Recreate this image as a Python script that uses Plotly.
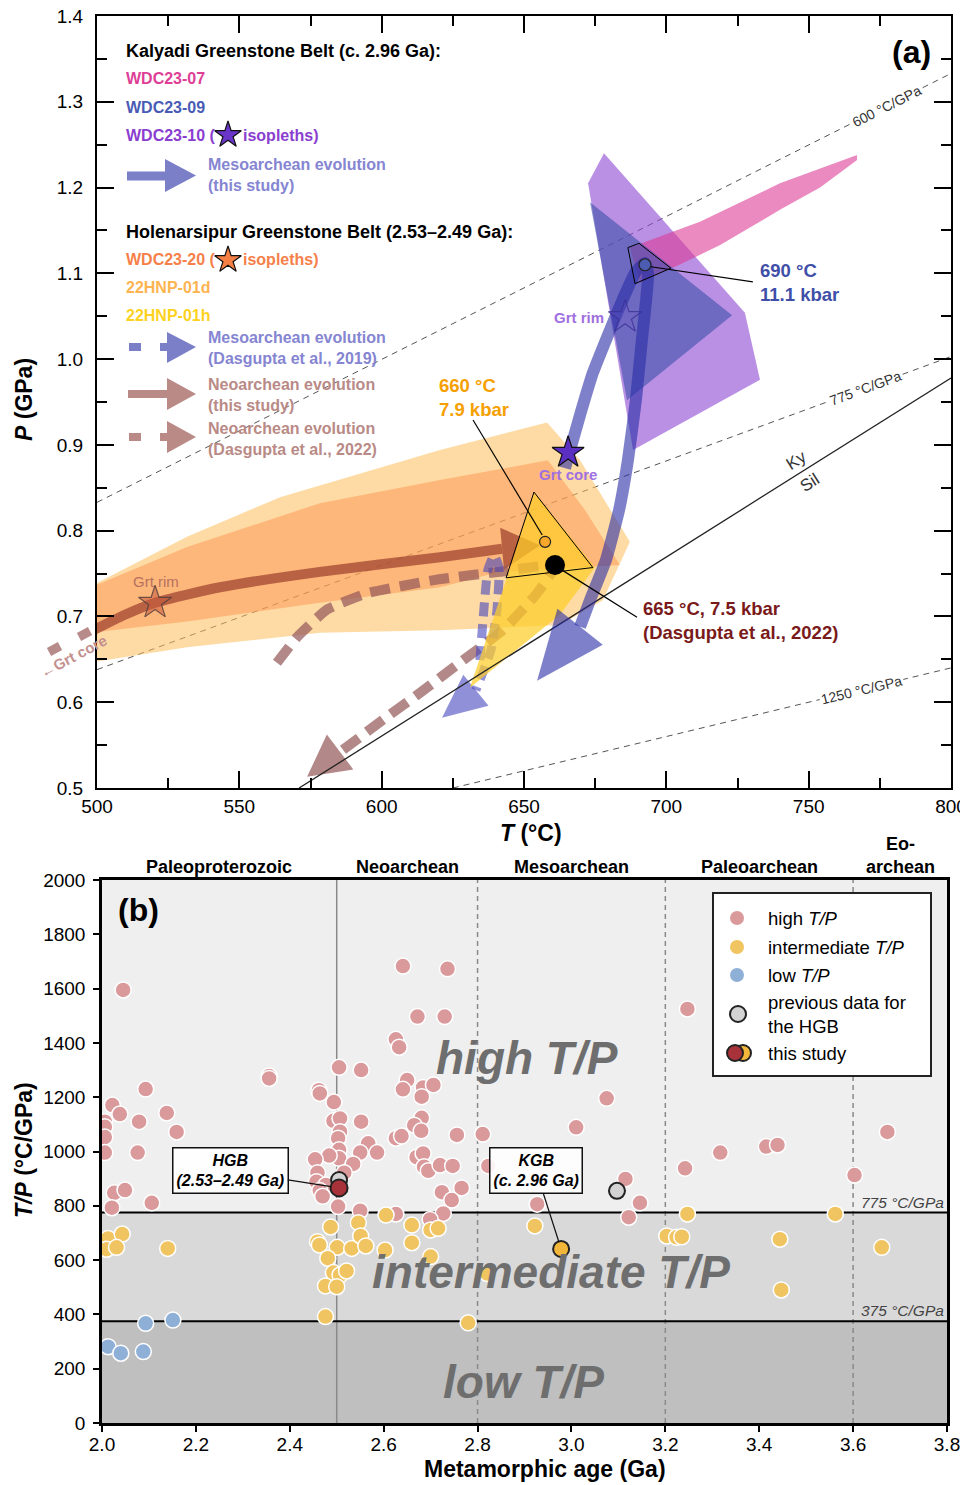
import math
import plotly.graph_objects as go

# page geometry (the page body adds an 8 px margin around the figure)
PAGE_W, PAGE_H = 968, 1485
OFF = 8
W, H = PAGE_W - OFF, PAGE_H - OFF
FONT = "Liberation Sans, Arial, Helvetica, sans-serif"

# ---------------- Panel (a): P–T diagram ----------------
T_RANGE = [500, 800]
P_RANGE = [0.5, 1.4]
T_TICKS = [500, 550, 600, 650, 700, 750, 800]
P_TICKS = [0.5, 0.6, 0.7, 0.8, 0.9, 1.0, 1.1, 1.2, 1.3, 1.4]

GEO_LABELS = ["600 °C/GPa", "775 °C/GPa", "1250 °C/GPa"]
GEO_T = [[500, 800], [500, 800], [625, 800]]
GEO_P = [[0.833, 1.333], [0.638, 1.003], [0.500, 0.640]]
GEO_LABEL_T = [777.5, 770.0, 768.5]

KY_SIL_T = [571.0, 800.0]
KY_SIL_P = [0.500, 0.978]

# fields (T in °C, P in GPa)
HNP01D_T = [495.0, 500.0, 531.6, 564.3, 620.5, 658.1, 669.7, 687.2, 677.7, 662.6, 620.5, 578.3, 531.6, 500.0, 495.0]
HNP01D_P = [0.735, 0.739, 0.793, 0.839, 0.894, 0.926, 0.882, 0.787, 0.719, 0.690, 0.684, 0.681, 0.664, 0.647, 0.645]
WDC20_T = [495.0, 500.0, 531.6, 578.3, 620.5, 658.4, 671.4, 683.7, 641.6, 620.5, 578.3, 531.6, 500.0, 495.0]
WDC20_P = [0.733, 0.737, 0.781, 0.832, 0.859, 0.882, 0.824, 0.760, 0.752, 0.734, 0.716, 0.694, 0.682, 0.680]
HNP01H_T = [653.5, 674.9, 662.6, 631.0, 644.0]
HNP01H_P = [0.845, 0.757, 0.702, 0.617, 0.745]
WDC10_T = [678.1, 727.6, 732.9, 688.3, 672.5]
WDC10_P = [1.240, 1.054, 0.976, 0.894, 1.205]
WDC09_T = [673.2, 723.1, 686.2]
WDC09_P = [1.183, 1.051, 0.952]
WDC07_T = [687.2, 711.8, 739.9, 767.0, 767.0, 754.0, 739.9, 718.9, 705.9, 690.7]
WDC07_P = [1.130, 1.160, 1.205, 1.238, 1.232, 1.200, 1.174, 1.133, 1.112, 1.089]

# peak-field outlines
PEAK_HGB_T = [653.5, 674.2, 643.7, 653.5]
PEAK_HGB_P = [0.845, 0.757, 0.745, 0.845]
PEAK_KGB_T = [686.5, 690.4, 701.6, 689.0, 686.5]
PEAK_KGB_P = [1.130, 1.135, 1.106, 1.088, 1.130]

# P–T paths (last point = arrow tip)
MESO_T = [664.4, 669.7, 674.2, 678.5, 682.7, 686.2, 689.3, 692.5, 693.6, 692.9, 691.4, 689.3, 686.5, 683.4, 678.8, 673.2, 669.7, 654.6]
MESO_P = [0.873, 0.935, 0.984, 1.020, 1.054, 1.081, 1.102, 1.112, 1.100, 1.069, 1.022, 0.952, 0.882, 0.824, 0.766, 0.719, 0.688, 0.625]
D19_T = [634.5, 635.9, 637.3, 639.5, 641.2, 640.5, 638.4, 633.1, 621.2]
D19_P = [0.649, 0.708, 0.754, 0.771, 0.757, 0.708, 0.661, 0.614, 0.582]
NEO_T = [497.0, 509.8, 520.4, 543.2, 578.3, 620.5, 642.3, 655.6]
NEO_P = [0.681, 0.702, 0.716, 0.734, 0.752, 0.769, 0.779, 0.783]
D22_T = [563.2, 570.3, 580.8, 594.8, 619.4, 641.6, 660.9, 654.6, 642.6, 628.6, 613.5, 601.9, 585.4, 573.8]
D22_P = [0.646, 0.676, 0.708, 0.727, 0.743, 0.752, 0.759, 0.727, 0.684, 0.649, 0.611, 0.583, 0.542, 0.513]

# points
STAR_CORE = (665.5, 0.891)
STAR_RIM_KGB = (685.5, 1.049)
STAR_RIM_HGB = (520.4, 0.716)
PEAK_KGB = (692.5, 1.110)
PEAK_HGB = (657.4, 0.787)
PEAK_D22 = (660.9, 0.760)

# ---------------- Panel (b): T/P vs age ----------------
AGE_RANGE = [2.0, 3.8]
TP_RANGE = [0, 2000]
TP_BOUNDS = [375, 775]
ERA_BOUNDS = [2.5, 2.8, 3.2, 3.6]
ERA_NAMES = ["Paleoproterozoic", "Neoarchean", "Mesoarchean", "Paleoarchean", "Eo-<br>archean"]
ERA_MID = [2.25, 2.65, 3.0, 3.4, 3.7]

HIGH_AGE = [2.045, 2.022, 2.006, 2.006, 2.006, 2.006, 2.038, 2.093, 2.079, 2.138, 2.159, 2.076, 2.026, 2.049, 2.021, 2.106,
            2.356, 2.356, 2.462, 2.464, 2.494, 2.505, 2.552, 2.493, 2.507, 2.507, 2.503, 2.505, 2.505, 2.552, 2.567, 2.586,
            2.550, 2.484, 2.454, 2.535, 2.516, 2.459, 2.457, 2.477, 2.464, 2.470, 2.503, 2.550, 2.626,
            2.641, 2.736, 2.672, 2.730, 2.626, 2.633, 2.650, 2.641, 2.684, 2.706, 2.681, 2.681, 2.665, 2.680, 2.626, 2.638,
            2.756, 2.811, 2.670, 2.684, 2.686, 2.695, 2.720, 2.747, 2.823, 2.766, 2.724, 2.745, 2.727, 2.699,
            2.927, 3.010, 3.075, 3.115, 3.146, 3.122, 3.247, 3.242, 3.317, 3.415, 3.439, 3.603, 3.673]
HIGH_TP = [1595, 1171, 1110, 1091, 1053, 996, 1138, 1230, 1110, 1142, 1072, 996, 848, 858, 793, 811,
           1278, 1269, 1226, 1214, 1182, 1310, 1300, 1113, 1122, 1073, 1049, 1006, 975, 1110, 1030, 996,
           996, 985, 971, 954, 922, 922, 889, 877, 856, 835, 797, 782, 770,
           1683, 1673, 1497, 1497, 1413, 1384, 1263, 1229, 1236, 1245, 1202, 1124, 1097, 1076, 1049, 1057,
           1061, 1064, 979, 993, 944, 929, 950, 947, 947, 866, 850, 821, 772, 750,
           806, 1089, 1196, 899, 811, 758, 1525, 938, 996, 1018, 1024, 913, 1072]
INT_AGE = [2.013, 2.043, 2.010, 2.031, 2.140, 2.487, 2.459, 2.463, 2.501, 2.532, 2.546, 2.551, 2.562, 2.481, 2.493,
           2.507, 2.521, 2.476, 2.500, 2.476, 2.605, 2.603, 2.660, 2.660, 2.700, 2.716, 2.700, 2.820, 2.780, 2.922,
           3.247, 3.562, 3.203, 3.224, 3.235, 3.444, 3.661, 3.447]
INT_TP = [680, 696, 640, 647, 643, 722, 668, 656, 647, 643, 738, 689, 652, 607, 554,
          545, 560, 505, 502, 392, 766, 637, 729, 664, 711, 717, 613, 551, 369, 726,
          770, 770, 689, 684, 686, 677, 647, 490]
LOW_AGE = [2.013, 2.040, 2.088, 2.093, 2.151]
LOW_TP = [281, 257, 263, 367, 379]

PREV_AGE = [2.505, 3.097]
PREV_TP = [895, 855]
THIS_HGB = (2.505, 866)
THIS_KGB = (2.978, 641)

# ---------------- layout geometry (page pixels) ----------------
A_L, A_R, A_T, A_B = 97, 951, 16, 788
B_L, B_R, B_T, B_B = 102, 947, 880, 1423


def dom_x(l, r):
    return [(l - OFF) / W, (r - OFF) / W]


def dom_y(t, b):
    return [1 - (b - OFF) / H, 1 - (t - OFF) / H]


AX_DOM, AY_DOM = dom_x(A_L, A_R), dom_y(A_T, A_B)
BX_DOM, BY_DOM = dom_x(B_L, B_R), dom_y(B_T, B_B)


def a_to_px(T, P):
    px = A_L + (T - T_RANGE[0]) / (T_RANGE[1] - T_RANGE[0]) * (A_R - A_L)
    py = A_B - (P - P_RANGE[0]) / (P_RANGE[1] - P_RANGE[0]) * (A_B - A_T)
    return px, py


def px_to_a(px, py):
    T = T_RANGE[0] + (px - A_L) / (A_R - A_L) * (T_RANGE[1] - T_RANGE[0])
    P = P_RANGE[0] + (A_B - py) / (A_B - A_T) * (P_RANGE[1] - P_RANGE[0])
    return T, P


def px_to_b(px, py):
    a = AGE_RANGE[0] + (px - B_L) / (B_R - B_L) * (AGE_RANGE[1] - AGE_RANGE[0])
    t = TP_RANGE[0] + (B_B - py) / (B_B - B_T) * (TP_RANGE[1] - TP_RANGE[0])
    return a, t


def pp(px, py):
    return (px - OFF) / W, 1 - (py - OFF) / H


fig = go.Figure()


def poly(Ts, Ps, fill):
    fig.add_trace(go.Scatter(x=Ts, y=Ps, fill="toself", fillcolor=fill, mode="lines",
                             line=dict(width=0, color=fill), hoverinfo="skip", showlegend=False))


def line(Ts, Ps, color, width, dash="solid"):
    fig.add_trace(go.Scatter(x=Ts, y=Ps, mode="lines", line=dict(color=color, width=width, dash=dash),
                             hoverinfo="skip", showlegend=False))


def arrow(Ts, Ps, color, width, head_w, dash="solid", smoothing=0.6):
    fig.add_trace(go.Scatter(x=Ts[:-1], y=Ps[:-1], mode="lines",
                             line=dict(color=color, width=width, dash=dash, shape="spline", smoothing=smoothing),
                             hoverinfo="skip", showlegend=False))
    bx, by = a_to_px(Ts[-2], Ps[-2])
    tx, ty = a_to_px(Ts[-1], Ps[-1])
    dx, dy = tx - bx, ty - by
    L = math.hypot(dx, dy)
    nx, ny = -dy / L, dx / L
    pts = [(bx + nx * head_w / 2, by + ny * head_w / 2), (tx, ty), (bx - nx * head_w / 2, by - ny * head_w / 2)]
    hx, hy = zip(*[px_to_a(*p) for p in pts])
    poly(list(hx), list(hy), color)


# geotherms
for gt, gp in zip(GEO_T, GEO_P):
    line(gt, gp, "#555555", 1, "6px,5px")

# fields
poly(HNP01D_T, HNP01D_P, "rgba(253,190,90,0.55)")
poly(WDC20_T, WDC20_P, "rgba(253,140,70,0.45)")
poly(WDC10_T, WDC10_P, "rgba(140,70,210,0.6)")
poly(WDC07_T, WDC07_P, "rgba(220,60,150,0.6)")
poly(WDC09_T, WDC09_P, "rgba(60,80,170,0.6)")

# Neoarchean paths
arrow(NEO_T, NEO_P, "rgba(160,70,50,0.75)", 10, 42)
arrow(D22_T, D22_P, "rgba(150,90,90,0.72)", 10, 44, dash="20px,10px", smoothing=0.4)
arrow(D19_T, D19_P, "rgba(70,70,190,0.6)", 9, 40, dash="14px,8px", smoothing=0.5)

poly(HNP01H_T, HNP01H_P, "rgba(253,205,40,0.72)")

# Ky–Sil
line(KY_SIL_T, KY_SIL_P, "#222222", 1.3)

# Mesoarchean path (this study)
arrow(MESO_T, MESO_P, "rgba(40,45,165,0.6)", 12, 58, smoothing=0.4)

# peak outlines and leader lines
line(PEAK_HGB_T, PEAK_HGB_P, "black", 1)
line(PEAK_KGB_T, PEAK_KGB_P, "black", 1)
line([PEAK_KGB[0] + 1.5, 730.4], [PEAK_KGB[1] - 0.002, 1.090], "black", 1.2)
line([632.1, PEAK_HGB[0] - 1], [0.929, PEAK_HGB[1] + 0.008], "black", 1.2)
line([PEAK_D22[0] + 2.5, 689.7], [PEAK_D22[1] - 0.006, 0.699], "black", 1.2)

# peak points
fig.add_trace(go.Scatter(x=[PEAK_KGB[0]], y=[PEAK_KGB[1]], mode="markers",
                         marker=dict(size=12, color="#4c5cb0", line=dict(color="#222", width=1.2)),
                         hoverinfo="skip", showlegend=False))
fig.add_trace(go.Scatter(x=[PEAK_HGB[0]], y=[PEAK_HGB[1]], mode="markers",
                         marker=dict(size=11, color="#f7a82a", line=dict(color="#222", width=1.2)),
                         hoverinfo="skip", showlegend=False))
fig.add_trace(go.Scatter(x=[PEAK_D22[0]], y=[PEAK_D22[1]], mode="markers",
                         marker=dict(size=20, color="black"), hoverinfo="skip", showlegend=False))

# stars
fig.add_trace(go.Scatter(x=[STAR_CORE[0]], y=[STAR_CORE[1]], mode="markers",
                         marker=dict(symbol="star", size=24, color="#5a2fc2", line=dict(color="#111", width=1.2)),
                         hoverinfo="skip", showlegend=False))
fig.add_trace(go.Scatter(x=[STAR_RIM_KGB[0]], y=[STAR_RIM_KGB[1]], mode="markers",
                         marker=dict(symbol="star", size=25, color="rgba(120,90,210,0.15)",
                                     line=dict(color="rgba(60,50,150,0.8)", width=1.2)),
                         hoverinfo="skip", showlegend=False))
fig.add_trace(go.Scatter(x=[STAR_RIM_HGB[0]], y=[STAR_RIM_HGB[1]], mode="markers",
                         marker=dict(symbol="star", size=25, color="rgba(200,90,60,0.55)",
                                     line=dict(color="rgba(80,60,60,0.8)", width=1.2)),
                         hoverinfo="skip", showlegend=False))

# legend icons (panel a)
for (sx, sy, col) in [(228, 135, "#6a35c9"), (228, 260, "#f57f45")]:
    lt, lp = px_to_a(sx, sy)
    fig.add_trace(go.Scatter(x=[lt], y=[lp], mode="markers",
                             marker=dict(symbol="star", size=20, color=col, line=dict(color="#111", width=1.2)),
                             hoverinfo="skip", showlegend=False))

# ---------------- Panel (b) traces ----------------
def pts_b(ages, tps, color, size=16, lw=1.5, lc="white", opacity=1.0):
    fig.add_trace(go.Scatter(x=ages, y=tps, mode="markers", xaxis="x2", yaxis="y2",
                             marker=dict(size=size, color=color, opacity=opacity, line=dict(color=lc, width=lw)),
                             hoverinfo="skip", showlegend=False))


PINK = "#da9a9c"
YEL = "#f0c460"
BLUE = "#8fb0d6"
pts_b(HIGH_AGE, HIGH_TP, PINK)
pts_b(INT_AGE, INT_TP, YEL)
pts_b(LOW_AGE, LOW_TP, BLUE)
pts_b(PREV_AGE, PREV_TP, "#d3d3d3", size=16, lw=2, lc="#222")
pts_b([THIS_HGB[0]], [THIS_HGB[1]], "#a8323a", size=17, lw=2, lc="#222")
pts_b([THIS_KGB[0]], [THIS_KGB[1]], "#f2b63a", size=16, lw=2, lc="#222")

# legend markers panel b
for (mx, my, col, lw) in [(737, 918, PINK, 0), (737, 947, YEL, 0), (737, 975, BLUE, 0),
                          (738, 1014, "#d3d3d3", 2), (743, 1053, "#f2b63a", 2), (735, 1053, "#a8323a", 2)]:
    la, lt = px_to_b(mx, my)
    pts_b([la], [lt], col, size=16 if lw else 14, lw=lw, lc="#222")

# ---------------- shapes ----------------
shapes = []
B = dict(xref="x2", yref="y2", layer="below")
shapes.append(dict(type="rect", x0=AGE_RANGE[0], x1=AGE_RANGE[1], y0=TP_BOUNDS[1], y1=TP_RANGE[1],
                   fillcolor="#efefef", line=dict(width=0), **B))
shapes.append(dict(type="rect", x0=AGE_RANGE[0], x1=AGE_RANGE[1], y0=TP_BOUNDS[0], y1=TP_BOUNDS[1],
                   fillcolor="#d9d9d9", line=dict(width=0), **B))
shapes.append(dict(type="rect", x0=AGE_RANGE[0], x1=AGE_RANGE[1], y0=TP_RANGE[0], y1=TP_BOUNDS[0],
                   fillcolor="#bfbfbf", line=dict(width=0), **B))
for i, e in enumerate(ERA_BOUNDS):
    shapes.append(dict(type="line", x0=e, x1=e, y0=TP_RANGE[0], y1=TP_RANGE[1],
                       line=dict(color="#8a8a8a", width=1.5, dash="solid" if i == 0 else "5px,4px"), **B))
for b in TP_BOUNDS:
    shapes.append(dict(type="line", x0=AGE_RANGE[0], x1=AGE_RANGE[1], y0=b, y1=b,
                       line=dict(color="black", width=2), **B))
# legend box panel b
lx0, ly0 = px_to_b(713, 1076)
lx1, ly1 = px_to_b(931, 893)
shapes.append(dict(type="rect", x0=lx0, x1=lx1, y0=ly0, y1=ly1, fillcolor="white",
                   line=dict(color="#222", width=2), **B))


def pshape_line(p0, p1, color, width):
    x0, y0 = pp(*p0)
    x1, y1 = pp(*p1)
    shapes.append(dict(type="line", xref="paper", yref="paper", x0=x0, y0=y0, x1=x1, y1=y1,
                       line=dict(color=color, width=width), layer="above"))


def pshape_head(pts, color):
    s = "M " + " L ".join(f"{pp(*p)[0]:.5f},{pp(*p)[1]:.5f}" for p in pts) + " Z"
    shapes.append(dict(type="path", xref="paper", yref="paper", path=s, fillcolor=color,
                       line=dict(width=0), layer="above"))


LBLUE = "#7b7fc8"
LBROWN = "#b98a86"
# Mesoarchean (this study)
pshape_line((127, 176), (167, 176), LBLUE, 9)
pshape_head([(165, 159), (196, 175.5), (165, 192)], LBLUE)
# Mesoarchean (Dasgupta 2019)
pshape_line((129, 347), (141, 347), LBLUE, 8)
pshape_line((160, 347), (168, 347), LBLUE, 8)
pshape_head([(167, 332), (196, 347), (167, 363)], LBLUE)
# Neoarchean (this study)
pshape_line((128, 394), (168, 394), LBROWN, 8)
pshape_head([(167, 378), (196, 394), (167, 410)], LBROWN)
# Neoarchean (Dasgupta 2022)
pshape_line((129, 437), (141, 437), LBROWN, 8)
pshape_line((160, 437), (168, 437), LBROWN, 8)
pshape_head([(167, 421), (196, 437), (167, 453)], LBROWN)
# "Grt core" continuation left of the axis
pshape_line((90, 631), (79, 637), "rgba(160,100,100,0.75)", 9)
pshape_line((60, 646), (49, 652), "rgba(160,100,100,0.75)", 9)

# ---------------- annotations ----------------
ann = []


def ptxt(px, py, text, color="black", size=16, xanchor="left", yanchor="middle", angle=0, bold=True, italic=False):
    x, y = pp(px, py)
    t = text
    if italic:
        t = f"<i>{t}</i>"
    if bold:
        t = f"<b>{t}</b>"
    ann.append(dict(x=x, y=y, xref="paper", yref="paper", text=t, showarrow=False,
                    xanchor=xanchor, yanchor=yanchor, textangle=angle, align="left" if xanchor == "left" else "center",
                    font=dict(family=FONT, size=size, color=color)))


# panel a legend
ptxt(124, 51, "Kalyadi Greenstone Belt (c. 2.96 Ga):", size=18)
ptxt(124, 79, "WDC23-07", "#dd4096")
ptxt(124, 107, "WDC23-09", "#4a5bb5")
ptxt(124, 135, "WDC23-10 (", "#8a3ed0")
ptxt(241, 135, "isopleths)", "#8a3ed0")
ptxt(206, 175, "Mesoarchean evolution<br>(this study)", "#8585d2")
ptxt(124, 232, "Holenarsipur Greenstone Belt (2.53–2.49 Ga):", size=18)
ptxt(124, 260, "WDC23-20 (", "#f5804a")
ptxt(241, 260, "isopleths)", "#f5804a")
ptxt(124, 288, "22HNP-01d", "#fdb451")
ptxt(124, 316, "22HNP-01h", "#fdd21f")
ptxt(206, 348, "Mesoarchean evolution<br>(Dasgupta et al., 2019)", "#8585d2")
ptxt(206, 395, "Neoarchean evolution<br>(this study)", LBROWN)
ptxt(206, 439, "Neoarchean evolution<br>(Dasgupta et al., 2022)", LBROWN)
ptxt(933, 52, "(a)", size=32, xanchor="right")

# peak labels
ptxt(758, 282, "690 °C<br>11.1 kbar", "#3f4fa8", size=18.5)
ptxt(437, 397, "660 °C<br>7.9 kbar", "#f5a000", size=18.5)
ptxt(641, 620, "665 °C, 7.5 kbar<br>(Dasgupta et al., 2022)", "#7a1a1a", size=18.5)
ptxt(568, 474, "Grt core", "#a070e0", size=15, xanchor="center")
ptxt(606, 318, "Grt rim", "#a070e0", size=15, xanchor="right")
ptxt(156, 581, "Grt rim", "#b87060", size=15, xanchor="center", bold=False)
ptxt(73, 657, "←Grt core", "#c49090", size=15, xanchor="center", angle=-28)

# geotherm labels
for lab, gt, gp, lt in zip(GEO_LABELS, GEO_T, GEO_P, GEO_LABEL_T):
    lp = gp[0] + (lt - gt[0]) / (gt[1] - gt[0]) * (gp[1] - gp[0])
    x0, y0 = a_to_px(gt[0], gp[0])
    x1, y1 = a_to_px(gt[1], gp[1])
    ang = math.degrees(math.atan2(y1 - y0, x1 - x0))
    ann.append(dict(x=lt, y=lp, xref="x", yref="y", text=lab, showarrow=False, textangle=ang,
                    bgcolor="white", borderpad=1, font=dict(family=FONT, size=14, color="#333")))
# Ky / Sil
x0, y0 = a_to_px(KY_SIL_T[0], KY_SIL_P[0])
x1, y1 = a_to_px(KY_SIL_T[1], KY_SIL_P[1])
ks_ang = math.degrees(math.atan2(y1 - y0, x1 - x0))
ks_t = 748
ks_p = KY_SIL_P[0] + (ks_t - KY_SIL_T[0]) / (KY_SIL_T[1] - KY_SIL_T[0]) * (KY_SIL_P[1] - KY_SIL_P[0])
ann.append(dict(x=ks_t, y=ks_p, xref="x", yref="y", text="Ky", showarrow=False, textangle=ks_ang,
                xshift=-7, yshift=11, font=dict(family=FONT, size=17, color="#333")))
ann.append(dict(x=ks_t, y=ks_p, xref="x", yref="y", text="Sil", showarrow=False, textangle=ks_ang,
                xshift=7, yshift=-11, font=dict(family=FONT, size=17, color="#333")))

# axis titles
ptxt(531, 833, "<i>T</i> (°C)", size=23, xanchor="center")
ptxt(24, 400, "<i>P</i> (GPa)", size=23, xanchor="center", angle=-90)
ptxt(545, 1469, "Metamorphic age (Ga)", size=23, xanchor="center")
ptxt(24, 1150, "<i>T/P</i> (°C/GPa)", size=23, xanchor="center", angle=-90)

# panel b labels
for name, mid in zip(ERA_NAMES, ERA_MID):
    ann.append(dict(x=mid, y=pp(0, 879)[1], xref="x2", yref="paper", text=f"<b>{name}</b>", showarrow=False,
                    xanchor="center", yanchor="bottom", font=dict(family=FONT, size=18, color="black")))
ptxt(116, 910, "(b)", size=32)

BIG = dict(family=FONT, size=46, color="#6e6e6e")
for txt_, xa, ya in [("high T/P", 2.905, 1344), ("intermediate T/P", 2.957, 556), ("low T/P", 2.897, 151)]:
    ann.append(dict(x=xa, y=ya, xref="x2", yref="y2", text=f"<b><i>{txt_}</i></b>", showarrow=False, font=BIG))
for b in TP_BOUNDS:
    ann.append(dict(x=3.797, y=b, xref="x2", yref="y2", text=f"<i>{b} °C/GPa</i>", showarrow=False,
                    xanchor="right", yanchor="bottom", font=dict(family=FONT, size=15.5, color="#444")))

# callout boxes
ann.append(dict(x=THIS_HGB[0], y=THIS_HGB[1], xref="x2", yref="y2",
                text="<b><i>HGB</i></b><br><b><i>(2.53–2.49 Ga)</i></b>", showarrow=True, arrowhead=0,
                arrowwidth=1.2, arrowcolor="#111", ax=-109, ay=-17, standoff=8,
                bgcolor="rgba(255,255,255,0.9)", bordercolor="#111", borderwidth=1.5, borderpad=3,
                font=dict(family=FONT, size=16, color="black")))
ann.append(dict(x=THIS_KGB[0], y=THIS_KGB[1], xref="x2", yref="y2",
                text="<b><i>KGB</i></b><br><b><i>(c. 2.96 Ga)</i></b>", showarrow=True, arrowhead=0,
                arrowwidth=1.2, arrowcolor="#111", ax=-25, ay=-78, standoff=7,
                bgcolor="rgba(255,255,255,0.88)", bordercolor="#111", borderwidth=1.5, borderpad=3,
                font=dict(family=FONT, size=16, color="black")))

# legend texts panel b
LEG = dict(family=FONT, size=18.5, color="black")
for txt_, yy in [("high <i>T/P</i>", 918), ("intermediate <i>T/P</i>", 947), ("low <i>T/P</i>", 975),
                 ("previous data for<br>the HGB", 1014), ("this study", 1053)]:
    x, y = pp(766, yy)
    ann.append(dict(x=x, y=y, xref="paper", yref="paper", text=txt_, showarrow=False, xanchor="left",
                    yanchor="middle", align="left", font=LEG))

# ---------------- axes ----------------
axcommon = dict(showline=True, linecolor="black", showgrid=False, zeroline=False, automargin=False,
                ticklabeloverflow="allow",
                tickcolor="black", tickfont=dict(family=FONT, size=19, color="black"))
fig.update_layout(
    width=W, height=H, margin=dict(l=0, r=0, t=0, b=0, pad=0, autoexpand=False),
    paper_bgcolor="white", plot_bgcolor="white", showlegend=False,
    font=dict(family=FONT),
    xaxis=dict(domain=AX_DOM, range=T_RANGE, tickvals=T_TICKS, ticks="inside", ticklen=17, tickwidth=2,
               mirror="ticks", anchor="y", ticklabelstandoff=0, linewidth=2,
               minor=dict(ticks="inside", ticklen=10, tickwidth=2, tickcolor="black", dtick=25, tick0=500),
               **axcommon),
    yaxis=dict(domain=AY_DOM, range=P_RANGE, tickvals=P_TICKS, tickformat=".1f", ticks="inside", ticklen=17,
               tickwidth=2, mirror="ticks", anchor="x", ticklabelstandoff=8, linewidth=2,
               minor=dict(ticks="inside", ticklen=10, tickwidth=2, tickcolor="black", dtick=0.05, tick0=0.5),
               **axcommon),
    xaxis2=dict(domain=BX_DOM, range=AGE_RANGE, dtick=0.2, tick0=2.0, tickformat=".1f", ticks="outside",
                ticklen=6, tickwidth=2, mirror=True, anchor="y2", ticklabelstandoff=-4, linewidth=2.5,
                **axcommon),
    yaxis2=dict(domain=BY_DOM, range=TP_RANGE, dtick=200, tick0=0, ticks="outside", ticklen=6, tickwidth=2,
                mirror=True, anchor="x2", ticklabelstandoff=4, linewidth=2.5, **axcommon),
    shapes=shapes, annotations=ann,
)

fig.write_html("out.html")
